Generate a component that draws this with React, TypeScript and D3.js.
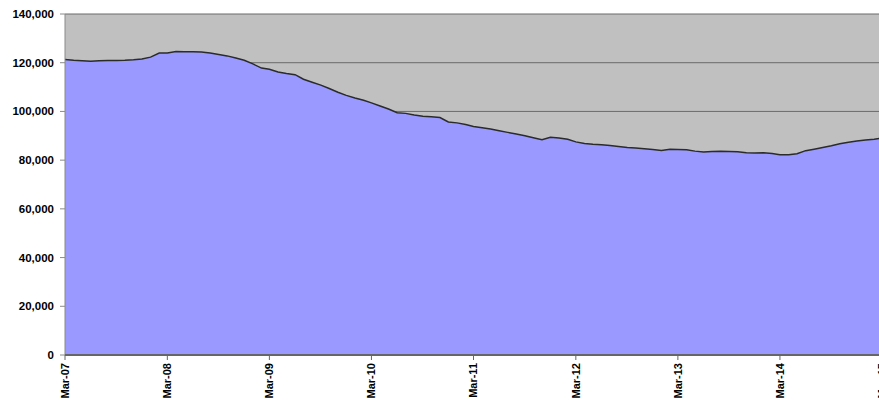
import { scaleLinear, scaleTime, area, line, timeFormat, curveLinear } from 'd3'

const width = 879
const height = 405
const margin = { top: 14, right: -3, bottom: 50, left: 65 }
const innerW = width - margin.left - margin.right
const innerH = height - margin.top - margin.bottom

// monthly values, Mar-07 .. Mar-15
const values = [
  121300, 121000, 120800, 120600, 120800, 120900, 120900, 121000, 121200, 121500, 122300, 124000,
  124000, 124600, 124500, 124500, 124400, 124000, 123400, 122800, 121900, 121000, 119500, 117800,
  117300, 116200, 115600, 115100, 113200, 112000, 110800, 109400, 107900, 106600, 105500, 104600,
  103500, 102200, 101000, 99500, 99200, 98500, 98000, 97800, 97500, 95700, 95300, 94600,
  93800, 93300, 92800, 92100, 91400, 90700, 90000, 89200, 88400, 89400, 89100, 88600,
  87500, 86800, 86500, 86300, 86000, 85600, 85200, 85000, 84700, 84400, 84000, 84500,
  84400, 84300, 83700, 83300, 83500, 83600, 83500, 83400, 83000, 82900, 83000, 82700,
  82200, 82200, 82600, 83900, 84500, 85200, 85900, 86700, 87300, 87900, 88300, 88600,
  89100,
]
const startDate = new Date(2007, 2, 1)
const dates = values.map((_, i) => new Date(2007, 2 + i, 1))
const yTicks = [0, 20000, 40000, 60000, 80000, 100000, 120000, 140000]
const xTicks = [2007, 2008, 2009, 2010, 2011, 2012, 2013, 2014, 2015].map(y => new Date(y, 2, 1))

const x = scaleTime().domain([startDate, dates[dates.length - 1]]).range([0, innerW])
const y = scaleLinear().domain([0, 140000]).range([innerH, 0])
const fmtX = timeFormat('%b-%y')
const fmtY = (v: number) => v.toLocaleString('en-US')

const areaGen = area<number>()
  .x((_, i) => x(dates[i]))
  .y0(innerH)
  .y1(d => y(d))
  .curve(curveLinear)
const lineGen = line<number>()
  .x((_, i) => x(dates[i]))
  .y(d => y(d))

function App() {
  return (
    <svg width={width} height={height} style={{ position: 'absolute', left: 0, top: 0 }}
      fontFamily="'Liberation Sans', Arial, sans-serif">
      <g transform={`translate(${margin.left},${margin.top})`}>
        <rect x={0} y={0} width={innerW} height={innerH} fill="#C0C0C0" />
        {yTicks.map(t => (
          <line key={t} x1={0} x2={innerW} y1={y(t)} y2={y(t)} stroke="#6a6a6a" strokeWidth={1} />
        ))}
        <path d={areaGen(values) || ''} fill="#9999FF" />
        <path d={lineGen(values) || ''} fill="none" stroke="#2b2b2b" strokeWidth={1.5} />
        <line x1={0} x2={0} y1={0} y2={innerH} stroke="#8a8a8a" strokeWidth={1} />
        <line x1={0} x2={innerW} y1={innerH} y2={innerH} stroke="#666" strokeWidth={2} />
        {yTicks.map(t => (
          <g key={t} transform={`translate(0,${y(t)})`}>
            <line x1={-5} x2={0} stroke="#8a8a8a" />
            <text x={-11} dy="0.35em" textAnchor="end" fontSize={11.5} fontWeight="bold" fill="#000">
              {fmtY(t)}
            </text>
          </g>
        ))}
        {xTicks.map(t => (
          <g key={+t} transform={`translate(${x(t)},${innerH})`}>
            <line y1={0} y2={5} stroke="#666" />
            <text transform="rotate(-90)" x={-8} dy="0.35em" textAnchor="end" fontSize={11}
              fontWeight="bold" fill="#000">
              {fmtX(t)}
            </text>
          </g>
        ))}
      </g>
    </svg>
  )
}

export default App
